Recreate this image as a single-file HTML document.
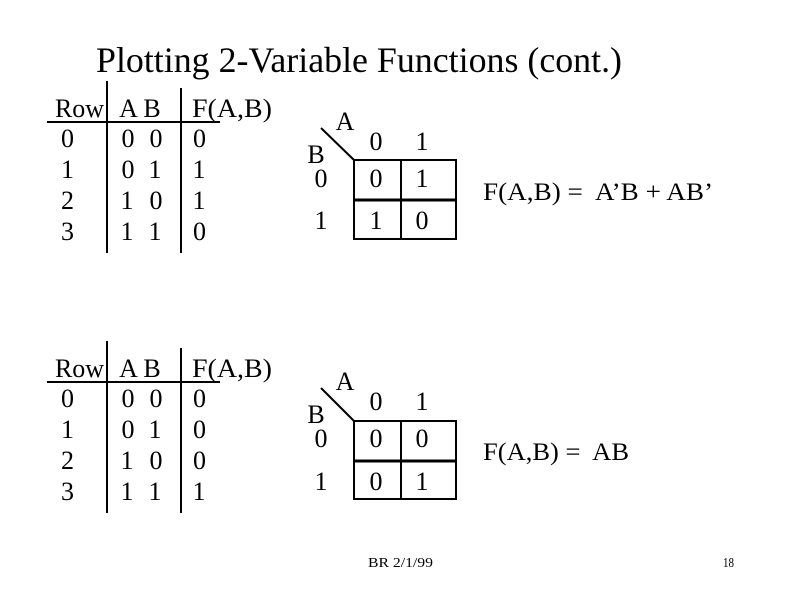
<!DOCTYPE html>
<html>
<head>
<meta charset="utf-8">
<style>
  html, body { margin: 0; padding: 0; background: #fff; }
  body { width: 800px; height: 600px; overflow: hidden; }
  svg { display: block; }
  text { font-family: "Liberation Serif", "DejaVu Serif", serif; fill: #000; }
</style>
</head>
<body>
<svg width="800" height="600" viewBox="0 0 800 600" xmlns="http://www.w3.org/2000/svg">
  <rect x="0" y="0" width="800" height="600" fill="#fff"/>

  <!-- Title -->
  <text x="96" y="72" font-size="36" textLength="526" lengthAdjust="spacingAndGlyphs">Plotting 2-Variable Functions (cont.)</text>

  <!-- ===== Top truth table ===== -->
  <g stroke="#000" stroke-width="2">
    <line x1="47" y1="122" x2="220" y2="122"/>
    <line x1="107" y1="81" x2="107" y2="253"/>
    <line x1="181" y1="88" x2="181" y2="253"/>
  </g>
  <g font-size="26">
    <text x="55" y="117" textLength="49" lengthAdjust="spacingAndGlyphs">Row</text>
    <text x="128.5" y="117" text-anchor="middle">A</text>
    <text x="152" y="117" text-anchor="middle">B</text>
    <text x="192" y="117" textLength="80" lengthAdjust="spacingAndGlyphs">F(A,B)</text>

    <text x="67.5" y="147" text-anchor="middle">0</text>
    <text x="67.5" y="178" text-anchor="middle">1</text>
    <text x="67.5" y="209" text-anchor="middle">2</text>
    <text x="67.5" y="240" text-anchor="middle">3</text>

    <text x="128" y="147" text-anchor="middle">0</text>
    <text x="156" y="147" text-anchor="middle">0</text>
    <text x="128" y="178" text-anchor="middle">0</text>
    <text x="155" y="178" text-anchor="middle">1</text>
    <text x="127" y="209" text-anchor="middle">1</text>
    <text x="156" y="209" text-anchor="middle">0</text>
    <text x="127" y="240" text-anchor="middle">1</text>
    <text x="155" y="240" text-anchor="middle">1</text>

    <text x="199.5" y="147" text-anchor="middle">0</text>
    <text x="199" y="178" text-anchor="middle">1</text>
    <text x="199" y="209" text-anchor="middle">1</text>
    <text x="199.5" y="240" text-anchor="middle">0</text>
  </g>

  <!-- ===== Top K-map ===== -->
  <g stroke="#000" stroke-width="2">
    <line x1="321" y1="128" x2="354" y2="160"/>
    <line x1="353" y1="160" x2="457" y2="160"/>
    <line x1="353" y1="239" x2="457" y2="239"/>
    <line x1="354" y1="159" x2="354" y2="240"/>
    <line x1="456" y1="159" x2="456" y2="240"/>
    <line x1="401" y1="159" x2="401" y2="240"/>
    <line x1="353" y1="200" x2="457" y2="200" stroke-width="3"/>
  </g>
  <g font-size="26" text-anchor="middle">
    <text x="345" y="130">A</text>
    <text x="316" y="163">B</text>
    <text x="376" y="150">0</text>
    <text x="422" y="150">1</text>
    <text x="321" y="187">0</text>
    <text x="321" y="229">1</text>
    <text x="376" y="187">0</text>
    <text x="422" y="187">1</text>
    <text x="376" y="229">1</text>
    <text x="422" y="229">0</text>
  </g>

  <text x="483" y="200" font-size="25" textLength="230" lengthAdjust="spacingAndGlyphs" xml:space="preserve">F(A,B) =  A’B + AB’</text>

  <!-- ===== Bottom truth table ===== -->
  <g stroke="#000" stroke-width="2">
    <line x1="47" y1="382" x2="220" y2="382"/>
    <line x1="107" y1="341" x2="107" y2="513"/>
    <line x1="181" y1="348" x2="181" y2="513"/>
  </g>
  <g font-size="26">
    <text x="55" y="377" textLength="49" lengthAdjust="spacingAndGlyphs">Row</text>
    <text x="128.5" y="377" text-anchor="middle">A</text>
    <text x="152" y="377" text-anchor="middle">B</text>
    <text x="192" y="377" textLength="80" lengthAdjust="spacingAndGlyphs">F(A,B)</text>

    <text x="67.5" y="407" text-anchor="middle">0</text>
    <text x="67.5" y="438" text-anchor="middle">1</text>
    <text x="67.5" y="469" text-anchor="middle">2</text>
    <text x="67.5" y="500" text-anchor="middle">3</text>

    <text x="128" y="407" text-anchor="middle">0</text>
    <text x="156" y="407" text-anchor="middle">0</text>
    <text x="128" y="438" text-anchor="middle">0</text>
    <text x="155" y="438" text-anchor="middle">1</text>
    <text x="127" y="469" text-anchor="middle">1</text>
    <text x="156" y="469" text-anchor="middle">0</text>
    <text x="127" y="500" text-anchor="middle">1</text>
    <text x="155" y="500" text-anchor="middle">1</text>

    <text x="199.5" y="407" text-anchor="middle">0</text>
    <text x="199.5" y="438" text-anchor="middle">0</text>
    <text x="199.5" y="469" text-anchor="middle">0</text>
    <text x="199" y="500" text-anchor="middle">1</text>
  </g>

  <!-- ===== Bottom K-map ===== -->
  <g stroke="#000" stroke-width="2">
    <line x1="321" y1="388" x2="354" y2="421"/>
    <line x1="353" y1="421" x2="457" y2="421"/>
    <line x1="353" y1="499" x2="457" y2="499"/>
    <line x1="354" y1="420" x2="354" y2="500"/>
    <line x1="456" y1="420" x2="456" y2="500"/>
    <line x1="401" y1="420" x2="401" y2="500"/>
    <line x1="353" y1="461" x2="457" y2="461" stroke-width="3"/>
  </g>
  <g font-size="26" text-anchor="middle">
    <text x="345" y="390">A</text>
    <text x="316" y="423">B</text>
    <text x="376" y="410">0</text>
    <text x="422" y="410">1</text>
    <text x="321" y="447">0</text>
    <text x="321" y="490">1</text>
    <text x="376" y="447">0</text>
    <text x="422" y="447">0</text>
    <text x="376" y="490">0</text>
    <text x="422" y="490">1</text>
  </g>

  <text x="483" y="460" font-size="25" textLength="146" lengthAdjust="spacingAndGlyphs" xml:space="preserve">F(A,B) =  AB</text>

  <!-- Footer -->
  <text x="368" y="567" font-size="14" textLength="65" lengthAdjust="spacingAndGlyphs">BR 2/1/99</text>
  <text x="723" y="567" font-size="14" textLength="11" lengthAdjust="spacingAndGlyphs">18</text>
</svg>
</body>
</html>
